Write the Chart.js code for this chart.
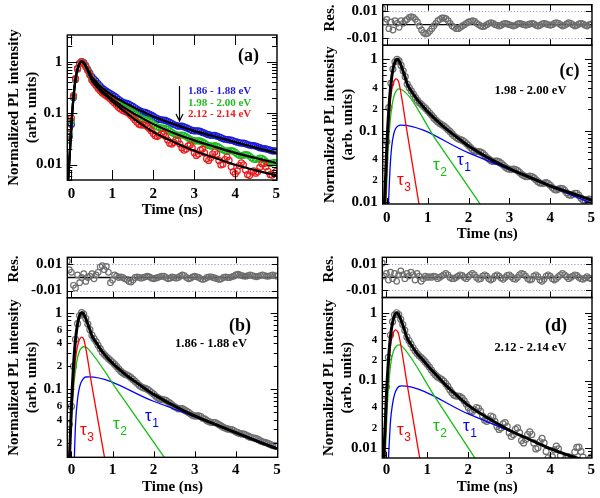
<!DOCTYPE html>
<html><head><meta charset="utf-8">
<script src="https://cdn.jsdelivr.net/npm/chart.js@4.4.1/dist/chart.umd.min.js"></script>
<style>
html,body{margin:0;padding:0;background:#fff;}
#wrap{position:relative;width:600px;height:498px;overflow:hidden;background:#fff;}
#wrap canvas{position:absolute;left:0;top:0;}
</style></head><body><div id="wrap"></div>
<script>
// ---------------- data ----------------
const xTicks = [0, 1, 2, 3, 4, 5];
const xTitle = 'Time (ns)';
const yTitle = ['Normalized PL intensity', '(arb. units)'];
const resTitle = 'Res.';

const yTicksA = [1, 0.1, 0.01];
const yLabelsA = ['1', '0.1', '0.01'];
const yTicksB = [1, 0.6, 0.4, 0.2, 0.1, 0.06, 0.04, 0.02];
const yLabelsB = ['1', '6', '4', '2', '0.1', '6', '4', '2'];
const yTicksCD = [1, 0.4, 0.2, 0.1, 0.04, 0.02, 0.01];
const yLabelsCD = ['1', '4', '2', '0.1', '4', '2', '0.01'];
const resTicks = [0.01, -0.01];
const resLabels = ['0.01', '-0.01'];

const legendA = ['1.86 - 1.88 eV', '1.98 - 2.00 eV', '2.12 - 2.14 eV'];

// measured decays (time in ns)
const tData = [-0.1,-0.05,0,0.05,0.1,0.15,0.2,0.25,0.3,0.35,0.4,0.45,0.5,0.55,0.6,0.65,0.7,0.75,0.8,0.85,0.9,0.95,1,1.05,1.1,1.15,1.2,1.25,1.3,1.35,1.4,1.45,1.5,1.55,1.6,1.65,1.7,1.75,1.8,1.85,1.9,1.95,2,2.05,2.1,2.15,2.2,2.25,2.3,2.35,2.4,2.45,2.5,2.55,2.6,2.65,2.7,2.75,2.8,2.85,2.9,2.95,3,3.05,3.1,3.15,3.2,3.25,3.3,3.35,3.4,3.45,3.5,3.55,3.6,3.65,3.7,3.75,3.8,3.85,3.9,3.95,4,4.05,4.1,4.15,4.2,4.25,4.3,4.35,4.4,4.45,4.5,4.55,4.6,4.65,4.7,4.75,4.8,4.85,4.9,4.95,5];

const dataB = [0.03,0.035,0.06,0.2,0.45,0.72,0.92,1.0,0.96,0.84,0.71,0.6,0.51,
 0.46,0.42,0.375,0.34,0.305,0.285,0.268,0.252,0.24,0.226,
 0.213,0.199,0.185,0.173,0.164,0.158,0.154,0.149,0.142,0.135,
 0.127,0.12,0.113,0.108,0.105,0.103,0.1,0.096,0.091,0.087,
 0.082,0.078,0.075,0.074,0.073,0.072,0.069,0.066,0.063,0.06,
 0.058,0.056,0.056,0.056,0.054,0.052,0.05,0.048,0.046,0.045,
 0.045,0.045,0.044,0.042,0.041,0.039,0.038,0.037,0.037,0.037,
 0.0358,0.0345,0.0332,0.032,0.031,0.0305,0.0302,0.0298,0.029,0.028,
 0.0272,0.0265,0.0262,0.026,0.0254,0.0245,0.0238,0.0234,0.0232,0.0228,
 0.0221,0.0213,0.0207,0.0204,0.0201,0.0196,0.019,0.0185,0.0184,0.0183];

const dataG = [0.03,0.04,0.07,0.21,0.46,0.73,0.92,1.0,0.95,0.82,0.69,0.57,0.45,
 0.40,0.36,0.325,0.292,0.265,0.246,0.232,0.218,0.205,0.19,
 0.177,0.164,0.151,0.141,0.132,0.126,0.121,0.116,0.11,0.103,
 0.097,0.09,0.084,0.08,0.077,0.075,0.073,0.07,0.066,0.062,
 0.058,0.054,0.052,0.051,0.051,0.05,0.048,0.045,0.042,0.04,
 0.038,0.037,0.0375,0.0375,0.0365,0.035,0.033,0.031,0.0295,0.0288,
 0.0288,0.029,0.0285,0.0275,0.026,0.0245,0.0235,0.0228,0.0228,0.0232,
 0.0228,0.0218,0.0205,0.0193,0.0185,0.0182,0.0185,0.0187,0.0182,0.0172,
 0.016,0.0151,0.0148,0.0152,0.0156,0.0154,0.0146,0.0135,0.0127,0.0125,
 0.0128,0.0133,0.0132,0.0124,0.0114,0.0107,0.0105,0.0108,0.011,0.0108];

const dataR = [0.035,0.05,0.08,0.22,0.47,0.74,0.93,1.0,0.94,0.8,0.67,0.55,0.44,
 0.39,0.345,0.305,0.275,0.25,0.232,0.218,0.204,0.188,0.172,
 0.158,0.143,0.13,0.12,0.113,0.108,0.104,0.098,0.09,0.082,
 0.073,0.066,0.061,0.059,0.059,0.058,0.055,0.05,0.045,0.04,
 0.036,0.035,0.037,0.04,0.039,0.035,0.03,0.026,0.025,0.027,
 0.03,0.029,0.025,0.021,0.019,0.02,0.023,0.024,0.021,0.017,
 0.015,0.016,0.019,0.02,0.017,0.013,0.012,0.0135,0.016,0.0175,
 0.016,0.012,0.0098,0.0102,0.0125,0.014,0.012,0.009,0.0072,0.0066,
 0.0075,0.0095,0.0108,0.0098,0.0078,0.0064,0.0061,0.0072,0.0075,0.0068,
 0.0072,0.0088,0.0103,0.0104,0.009,0.0074,0.0064,0.0062,0.0068,0.0074];

// fitted curves
const tFit = [-0.08,-0.05,-0.02,0,0.05,0.1,0.15,0.2,0.25,0.3,0.35,0.4,0.45,0.5,0.6,0.75,0.9,1,1.25,1.5,1.75,2,2.5,3,3.5,4,4.5,5];
const fitB = [0.005,0.012,0.03,0.06,0.2,0.45,0.72,0.92,1.0,0.96,0.84,0.71,0.6,0.5,0.41,0.31,0.25,0.22,0.167,0.132,0.106,0.086,0.061,0.045,0.035,0.0272,0.0213,0.0168];
const fitG = [0.005,0.012,0.03,0.06,0.2,0.45,0.72,0.92,1.0,0.95,0.82,0.68,0.56,0.45,0.36,0.27,0.215,0.185,0.134,0.101,0.078,0.061,0.041,0.0295,0.0222,0.0168,0.0134,0.0107];
const fitR = [0.005,0.012,0.03,0.06,0.2,0.45,0.72,0.92,1.0,0.94,0.8,0.66,0.54,0.43,0.34,0.25,0.2,0.168,0.115,0.08,0.058,0.043,0.0275,0.0185,0.0135,0.0099,0.0077,0.0062];

// decay components (tau3 fast, tau2 middle, tau1 slow)
const tau3B_t = [-0.06,-0.02,0.02,0.06,0.1,0.15,0.2,0.25,0.3,0.5,0.85];
const tau3B_v = [0.012,0.03,0.07,0.15,0.25,0.37,0.45,0.48,0.45,0.11,0.0095];
const tau2B_t = [-0.05,0,0.05,0.1,0.15,0.2,0.25,0.3,0.35,0.4,1.2,2.3];
const tau2B_v = [0.012,0.04,0.1,0.18,0.26,0.32,0.35,0.36,0.355,0.34,0.084,0.0121];
const tau1B_t = [0.07,0.1,0.15,0.2,0.25,0.3,0.35,0.42,2,5];
const tau1B_v = [0.012,0.035,0.075,0.108,0.128,0.14,0.145,0.146,0.07,0.0172];

const tau3G_t = [-0.03,0,0.05,0.1,0.15,0.2,0.23,0.27,0.3,0.5,0.8];
const tau3G_v = [0.009,0.03,0.12,0.3,0.45,0.52,0.53,0.51,0.46,0.093,0.0085];
const tau2G_t = [-0.02,0.03,0.08,0.13,0.18,0.23,0.29,0.35,1.2,2.3];
const tau2G_v = [0.009,0.05,0.13,0.23,0.31,0.36,0.385,0.38,0.075,0.0091];
const tau1G_t = [0.04,0.08,0.12,0.17,0.22,0.28,0.34,2,5];
const tau1G_v = [0.009,0.03,0.06,0.09,0.108,0.117,0.12,0.049,0.0097];

const tau3R_t = [-0.04,0,0.05,0.1,0.15,0.2,0.23,0.27,0.3,0.5,0.82];
const tau3R_v = [0.007,0.035,0.14,0.32,0.47,0.55,0.56,0.53,0.48,0.093,0.0068];
const tau2R_t = [-0.03,0.02,0.07,0.12,0.18,0.24,0.31,0.37,1.2,2.2];
const tau2R_v = [0.007,0.04,0.11,0.2,0.28,0.32,0.335,0.325,0.0556,0.0066];
const tau1R_t = [0.05,0.1,0.15,0.2,0.26,0.31,0.36,2,4.7];
const tau1R_v = [0.007,0.025,0.045,0.063,0.076,0.082,0.0835,0.0322,0.0067];

// residuals (same time grid as tData)
const resB = [0.0125,0.006,0.004,-0.006,-0.008,0.002,-0.004,0,0.003,-0.003,0,0.001,0.003,
 -0.001,0.002,0.004,0.008,0.009,0.006,0.0085,0.004,-0.004,-0.002,
 0.002,0.001,0,0.0005,0,-0.001,-0.0015,-0.003,-0.0035,-0.002,
 0,0.0005,0,-0.0005,0,0.0005,0.001,0.0005,-0.0005,-0.001,
 -0.0005,0,0.0005,0.001,0.001,0,-0.001,-0.0005,0.0005,0,
 -0.0005,0,0.001,0.002,0.0015,0,-0.001,-0.0005,0.0005,0.001,
 0.0005,0,-0.001,-0.0015,-0.001,0,0.0005,0.0005,0,-0.0005,
 -0.001,-0.0015,-0.001,0,0.0005,0,0,0.0005,0.001,0.002,
 0.0025,0.002,0.0015,0.001,0.001,0.0015,0.002,0.0015,0.001,0.0005,
 0.001,0.0015,0.002,0.0015,0.001,0.001,0.0015,0.002,0.0015,0.001];
const resG = [0.012,0.002,0.004,-0.003,0.002,-0.004,0.003,0.001,-0.002,0.003,0.001,0.003,0.004,
 0.0055,0.006,0.0055,0.004,0.002,-0.001,-0.004,-0.006,-0.007,-0.0065,
 -0.005,-0.003,-0.001,0.001,0.003,0.004,0.005,0.005,0.0045,0.003,
 0.001,-0.001,-0.002,-0.003,-0.003,-0.002,-0.001,0,0.001,0.002,
 0.0025,0.003,0.0025,0.001,0,-0.001,-0.0015,-0.001,0,0.001,
 0.0015,0.001,0,-0.0005,-0.001,-0.0005,0.0005,0.001,0.0005,0,
 -0.0005,-0.001,-0.0005,0.0005,0.001,0.0005,0,-0.0005,0,0.0005,
 0.001,0.0005,-0.0005,-0.001,-0.0005,0.0005,0.001,0.0005,0,-0.0005,
 0,0.001,0.0015,0.001,0,-0.001,-0.0005,0.0005,0.0015,0.001,
 0,-0.001,-0.0005,0.0005,0.001,0.0005,-0.0005,-0.001,0,0.0005];
const resR = [0.011,0.001,0.003,-0.002,0.004,-0.001,0.003,-0.003,0.002,0.005,0.002,-0.001,0.003,
 0.001,0.004,0.002,-0.002,0.003,0.001,-0.003,-0.001,0.001,0,
 0.0005,0,0.001,0.0005,-0.001,0,0.001,0.002,0.003,0.002,
 0,-0.001,-0.001,0,0.001,0.002,0.0015,0,-0.001,0.0005,
 0.002,0.003,0.002,0,-0.0015,-0.001,0.001,0.002,0.001,-0.001,
 -0.002,-0.001,0.001,0.002,0.001,-0.0005,-0.0015,0,0.0015,0.002,
 0.0005,-0.001,-0.0015,0,0.002,0.003,0.0025,0.001,-0.001,-0.002,
 -0.0015,0.001,0.002,0.0005,-0.002,-0.003,-0.0015,0.001,0.002,0.001,
 -0.001,-0.002,-0.001,0.0005,0.002,0.003,0.002,0.0005,-0.001,0,
 0.001,0.002,0.0015,0,-0.001,-0.0015,-0.0005,0.0005,-0.0005,-0.001];

// ---------------- drawing ----------------
const SERIF = "'Liberation Serif','Times New Roman',serif";
const SANS = "'Liberation Sans',Arial,sans-serif";
Chart.defaults.font.family = SERIF;
Chart.defaults.font.weight = 'bold';
Chart.defaults.font.size = 15;
Chart.defaults.color = '#000';

const COL = {blue: '#1c1cdc', green: '#22bb22', red: '#ee1c1c', grey: '#6e6e6e',
             cBlue: '#0000ff', cGreen: '#11c011', cRed: '#ff0000'};
const X_MIN = -0.1, X_MAX = 5.02;
const wrap = document.getElementById('wrap');

function pts(ts, vs) { return ts.map((t, i) => ({x: t, y: vs[i]})); }
function dots(ts, vs, color, r) {
  return {data: pts(ts, vs), showLine: false, pointRadius: r || 3, pointBorderWidth: 1.2,
          pointBackgroundColor: 'rgba(0,0,0,0)', pointBorderColor: color, borderColor: color, order: 3, clip: 0};
}
function curve(ts, vs, color, w, order) {
  return {data: pts(ts, vs), pointRadius: 0, borderWidth: w, borderColor: color,
          cubicInterpolationMode: 'monotone', order: order, clip: 0};
}
function logTicks(min, max, majorLen, minorLen) {
  const out = [];
  for (let e = -4; e <= 1; e++) for (let m = 1; m <= 9; m++) {
    const v = m * Math.pow(10, e);
    if (v >= min * 0.999 && v <= max * 1.001) out.push({v: v, len: m === 1 ? majorLen : minorLen});
  }
  return out;
}

function framePlugin(f) {
  return {
    id: 'frame',
    beforeDatasetsDraw(chart) {
      if (!f.res) return;
      const {ctx, chartArea: a, scales: {y}} = chart;
      ctx.save();
      ctx.lineWidth = 1; ctx.strokeStyle = '#9a9ae0'; ctx.setLineDash([1.2, 2]);
      for (const v of resTicks) {
        const py = Math.round(y.getPixelForValue(v)) + 0.5;
        ctx.beginPath(); ctx.moveTo(a.left, py); ctx.lineTo(a.right, py); ctx.stroke();
      }
      ctx.setLineDash([]); ctx.strokeStyle = '#000'; ctx.lineWidth = 1.3;
      const p0 = y.getPixelForValue(0);
      ctx.beginPath(); ctx.moveTo(a.left, p0); ctx.lineTo(a.right, p0); ctx.stroke();
      ctx.restore();
    },
    afterDraw(chart) {
      const {ctx, chartArea: a, scales: {x, y}} = chart;
      ctx.save();
      ctx.strokeStyle = '#000'; ctx.lineWidth = 1;
      ctx.beginPath();
      for (const v of xTicks) {
        const px = Math.round(x.getPixelForValue(v)) + 0.5;
        if (f.xBottom) { ctx.moveTo(px, a.bottom); ctx.lineTo(px, a.bottom - f.xLen); }
        if (f.xTop) { ctx.moveTo(px, a.top); ctx.lineTo(px, a.top + f.xLen); }
      }
      for (const t of f.yTicks) {
        const py = Math.round(y.getPixelForValue(t.v)) + 0.5;
        ctx.moveTo(a.left, py); ctx.lineTo(a.left + t.len, py);
        ctx.moveTo(a.right, py); ctx.lineTo(a.right - t.len, py);
      }
      ctx.stroke();
      ctx.lineWidth = 1.4;
      ctx.strokeRect(a.left, a.top, a.right - a.left, a.bottom - a.top);
      ctx.textBaseline = 'middle';
      for (const t of (f.texts || [])) {
        ctx.font = t.font; ctx.fillStyle = t.color || '#000'; ctx.textAlign = t.align || 'center';
        ctx.fillText(t.s, t.x, t.y);
      }
      ctx.textBaseline = 'alphabetic'; ctx.textAlign = 'left';
      for (const t of (f.taus || [])) {
        ctx.fillStyle = t.color;
        ctx.font = '17px ' + SANS;
        ctx.fillText('\u03C4', t.x, t.y);
        const w = ctx.measureText('\u03C4').width;
        ctx.font = '12px ' + SANS;
        ctx.fillText(t.sub, t.x + w + 0.5, t.y + 6);
      }
      if (f.rot) {
        ctx.save();
        ctx.translate(f.rot.x, f.rot.y); ctx.rotate(-Math.PI / 2);
        ctx.font = 'bold 15px ' + SERIF; ctx.fillStyle = '#000';
        ctx.textAlign = 'center'; ctx.textBaseline = 'middle';
        ctx.fillText(f.rot.s, 0, 0);
        ctx.restore();
      }
      if (f.arrow) {
        const ar = f.arrow;
        ctx.lineWidth = 1.2; ctx.strokeStyle = '#000';
        ctx.beginPath();
        ctx.moveTo(ar.x, ar.y0); ctx.lineTo(ar.x, ar.y1);
        ctx.moveTo(ar.x - 3.5, ar.y1 - 7); ctx.lineTo(ar.x, ar.y1); ctx.lineTo(ar.x + 3.5, ar.y1 - 7);
        ctx.stroke();
      }
      ctx.restore();
    }
  };
}

function makeChart(c) {
  const cv = document.createElement('canvas');
  cv.width = 600; cv.height = 498;
  cv.style.width = '600px'; cv.style.height = '498px';
  wrap.appendChild(cv);
  const [L, T, R, B] = c.area;
  const yW = 62;
  const xH = c.xShow ? c.xH : 0;
  const small = c.small || [];
  return new Chart(cv, {
    type: 'line',
    data: {datasets: c.datasets},
    options: {
      responsive: false, animation: false, devicePixelRatio: 1, events: [],
      layout: {autoPadding: false, padding: {left: L - yW, top: T, right: 600 - R, bottom: 498 - B - xH}},
      plugins: {legend: {display: false}, tooltip: {enabled: false}},
      scales: {
        x: {
          type: 'linear', min: X_MIN, max: X_MAX, display: c.xShow,
          grid: {display: false, drawTicks: false}, border: {display: false},
          ticks: {padding: c.xPad || 5, autoSkip: false, maxRotation: 0, font: {size: 15, weight: 'bold', family: SERIF},
                  callback: v => String(v)},
          afterBuildTicks: s => { s.ticks = xTicks.map(v => ({value: v})); },
          afterFit: s => { s.height = xH; s.paddingLeft = 0; s.paddingRight = 0; },
          title: {display: !!c.xShow, text: xTitle, padding: 0, font: {size: 15, weight: 'bold', family: SERIF, lineHeight: 1.2}}
        },
        y: {
          type: c.yType, min: c.yMin, max: c.yMax,
          grid: {display: false, drawTicks: false}, border: {display: false},
          ticks: {padding: 5, autoSkip: false,
                  callback: v => { const i = c.yTicks.indexOf(v); return i >= 0 ? c.yLabels[i] : ''; },
                  font: ctx => ({size: (ctx.tick && small.indexOf(ctx.tick.value) >= 0) ? 11 : 15, weight: 'bold', family: SERIF})},
          afterBuildTicks: s => { s.ticks = c.yTicks.map(v => ({value: v})); },
          afterFit: s => { s.width = yW; s.paddingTop = 0; s.paddingBottom = 0; },
          title: {display: !!c.yTitle, text: c.yTitle, padding: 0, font: {size: 15, weight: 'bold', family: SERIF, lineHeight: 1.2}}
        }
      }
    },
    plugins: [framePlugin(c.frame)]
  });
}

const bold = s => 'bold ' + s + 'px ' + SERIF;

// ---- panel (a)
makeChart({
  area: [67.3, 35, 277, 180], xShow: true, xH: 39.5, xPad: 5.5,
  yType: 'logarithmic', yMin: 0.005, yMax: 3.3, yTicks: yTicksA, yLabels: yLabelsA, yTitle: yTitle,
  datasets: [
    curve(tFit, fitB, '#000', 2.2, 0), curve(tFit, fitG, '#000', 2.2, 0), curve(tFit, fitR, '#000', 2.2, 0),
    dots(tData, dataR, COL.red), dots(tData, dataG, COL.green), dots(tData, dataB, COL.blue)
  ],
  frame: {xBottom: true, xTop: true, xLen: 10, yTicks: logTicks(0.005, 3.3, 10, 5),
    texts: [
      {s: '(a)', x: 248.5, y: 56, font: bold(18)},
      {s: legendA[0], x: 188, y: 91.5, font: bold(11), color: COL.blue, align: 'left'},
      {s: legendA[1], x: 188, y: 103.5, font: bold(11), color: COL.green, align: 'left'},
      {s: legendA[2], x: 188, y: 114.5, font: bold(11), color: COL.red, align: 'left'}
    ],
    arrow: {x: 179.5, y0: 86, y1: 121}}
});

// ---- panel (c)
makeChart({
  area: [382.7, 4.7, 592, 45.3], xShow: false,
  yType: 'linear', yMin: -0.0155, yMax: 0.015, yTicks: resTicks, yLabels: resLabels,
  datasets: [dots(tData, resG, COL.grey, 2.8)],
  frame: {res: true, xBottom: true, xTop: true, xLen: 6, yTicks: resTicks.map(v => ({v: v, len: 6})),
    rot: {s: resTitle, x: 382.7 - 53, y: 18}}
});
makeChart({
  area: [382.7, 45.3, 592, 204], xShow: true, xH: 39.5, xPad: 5,
  yType: 'logarithmic', yMin: 0.0094, yMax: 1.57, yTicks: yTicksCD, yLabels: yLabelsCD, yTitle: yTitle,
  small: [0.4, 0.2, 0.04, 0.02],
  datasets: [
    curve(tFit, fitG, '#000', 3, 0),
    curve(tau3G_t, tau3G_v, COL.cRed, 1.3, 1), curve(tau2G_t, tau2G_v, COL.cGreen, 1.3, 1), curve(tau1G_t, tau1G_v, COL.cBlue, 1.3, 1),
    dots(tData, dataG, COL.grey)
  ],
  frame: {xBottom: true, xTop: false, xLen: 6, yTicks: logTicks(0.0094, 1.57, 7, 4),
    texts: [
      {s: '(c)', x: 569.5, y: 71.5, font: bold(18)},
      {s: legendA[1], x: 530.5, y: 90.5, font: bold(12.5)}
    ],
    taus: [{x: 397, y: 185, sub: '3', color: COL.cRed}, {x: 433, y: 170, sub: '2', color: COL.cGreen}, {x: 457, y: 165, sub: '1', color: COL.cBlue}]}
});

// ---- panel (b)
makeChart({
  area: [67.3, 257.3, 277.7, 297.7], xShow: false,
  yType: 'linear', yMin: -0.0155, yMax: 0.0155, yTicks: resTicks, yLabels: resLabels,
  datasets: [dots(tData, resB, COL.grey, 2.8)],
  frame: {res: true, xBottom: true, xTop: true, xLen: 6, yTicks: resTicks.map(v => ({v: v, len: 6})),
    rot: {s: resTitle, x: 67.3 - 53, y: 269}}
});
makeChart({
  area: [67.3, 297.7, 277.7, 457.3], xShow: true, xH: 38.5, xPad: 3.5,
  yType: 'logarithmic', yMin: 0.013, yMax: 1.57, yTicks: yTicksB, yLabels: yLabelsB, yTitle: yTitle,
  small: [0.6, 0.4, 0.2, 0.06, 0.04, 0.02],
  datasets: [
    curve(tFit, fitB, '#000', 3, 0),
    curve(tau3B_t, tau3B_v, COL.cRed, 1.3, 1), curve(tau2B_t, tau2B_v, COL.cGreen, 1.3, 1), curve(tau1B_t, tau1B_v, COL.cBlue, 1.3, 1),
    dots(tData, dataB, COL.grey)
  ],
  frame: {xBottom: true, xTop: false, xLen: 6, yTicks: logTicks(0.013, 1.57, 7, 4),
    texts: [
      {s: '(b)', x: 240, y: 326, font: bold(18)},
      {s: legendA[0], x: 211, y: 344, font: bold(12.5)}
    ],
    taus: [{x: 80, y: 435, sub: '3', color: COL.cRed}, {x: 113, y: 429, sub: '2', color: COL.cGreen}, {x: 145, y: 421, sub: '1', color: COL.cBlue}]}
});

// ---- panel (d)
makeChart({
  area: [382.3, 257.3, 592, 297.5], xShow: false,
  yType: 'linear', yMin: -0.0155, yMax: 0.0155, yTicks: resTicks, yLabels: resLabels,
  datasets: [dots(tData, resR, COL.grey, 2.8)],
  frame: {res: true, xBottom: true, xTop: true, xLen: 6, yTicks: resTicks.map(v => ({v: v, len: 6})),
    rot: {s: resTitle, x: 382.3 - 53, y: 269}}
});
makeChart({
  area: [382.3, 297.5, 592, 458], xShow: true, xH: 38.5, xPad: 3.5,
  yType: 'logarithmic', yMin: 0.0072, yMax: 1.68, yTicks: yTicksCD, yLabels: yLabelsCD, yTitle: yTitle,
  small: [0.4, 0.2, 0.04, 0.02],
  datasets: [
    curve(tFit, fitR, '#000', 3, 0),
    curve(tau3R_t, tau3R_v, COL.cRed, 1.3, 1), curve(tau2R_t, tau2R_v, COL.cGreen, 1.3, 1), curve(tau1R_t, tau1R_v, COL.cBlue, 1.3, 1),
    dots(tData, dataR, COL.grey)
  ],
  frame: {xBottom: true, xTop: false, xLen: 6, yTicks: logTicks(0.0072, 1.68, 7, 4),
    texts: [
      {s: '(d)', x: 556, y: 326, font: bold(18)},
      {s: legendA[2], x: 530.5, y: 347.5, font: bold(12.5)}
    ],
    taus: [{x: 397, y: 435, sub: '3', color: COL.cRed}, {x: 433, y: 431, sub: '2', color: COL.cGreen}, {x: 463, y: 431, sub: '1', color: COL.cBlue}]}
});
</script></body></html>
